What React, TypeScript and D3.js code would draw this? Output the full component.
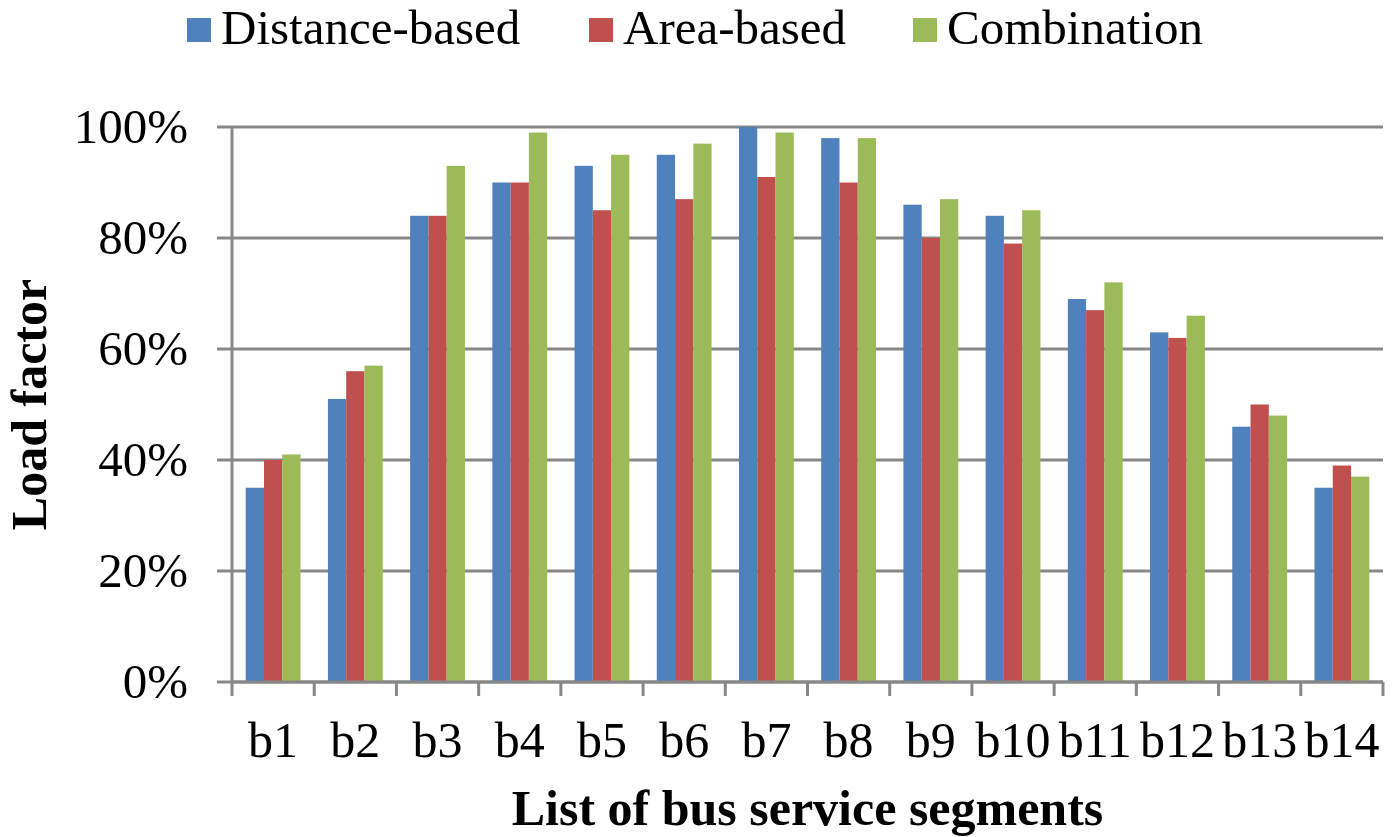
import React from "react";
import * as d3 from "d3";

const categories = ["b1", "b2", "b3", "b4", "b5", "b6", "b7", "b8", "b9", "b10", "b11", "b12", "b13", "b14"];
const distanceBased = [35, 51, 84, 90, 93, 95, 100, 98, 86, 84, 69, 63, 46, 35];
const areaBased = [40, 56, 84, 90, 85, 87, 91, 90, 80, 79, 67, 62, 50, 39];
const combination = [41, 57, 93, 99, 95, 97, 99, 98, 87, 85, 72, 66, 48, 37];
const seriesNames = ["Distance-based", "Area-based", "Combination"];
const seriesColors = ["#4F81BD", "#C0504D", "#9BBB59"];
const yTicks = [0, 20, 40, 60, 80, 100];

const W = 1395;
const H = 837;
const left = 232;
const right = 1383;
const top = 127;
const bottom = 682;
const FONT = "'Liberation Serif', 'Times New Roman', serif";
const GRID = "#878787";

export default function App() {
  const series = [distanceBased, areaBased, combination];
  const x = d3.scaleBand<string>().domain(categories).range([left, right]).paddingInner(1.5 / 4.5).paddingOuter(0.75 / 4.5);
  const xBand = d3.scaleBand<number>().domain([0, 1, 2]).range([0, x.bandwidth()]);
  const y = d3.scaleLinear().domain([0, 100]).range([bottom, top]);
  const step = (right - left) / categories.length;
  const legendX = [187, 589, 913];

  return (
    <svg width={W} height={H} style={{ position: "absolute", left: 0, top: 0, background: "#fff" }} fontFamily={FONT}>
      {/* legend */}
      {seriesNames.map((n, i) => (
        <g key={n}>
          <rect x={legendX[i]} y={18} width={24} height={24} fill={seriesColors[i]} />
          <text x={legendX[i] + 34} y={44} fontSize={49} fill="#000">{n}</text>
        </g>
      ))}
      {/* gridlines and y ticks */}
      {yTicks.map((t) => (
        <g key={t}>
          <line x1={217} x2={right} y1={y(t)} y2={y(t)} stroke={GRID} strokeWidth={3} />
          <text x={188} y={y(t) + 16} textAnchor="end" fontSize={49} fill="#000">{t}%</text>
        </g>
      ))}
      {/* bars */}
      {categories.map((c, ci) => (
        <g key={c} transform={`translate(${x(c)},0)`}>
          {series.map((s, si) => (
            <rect key={si} x={xBand(si)} y={y(s[ci])} width={xBand.bandwidth()} height={bottom - y(s[ci])} fill={seriesColors[si]} />
          ))}
        </g>
      ))}
      {/* axes */}
      <line x1={left} x2={left} y1={top} y2={bottom + 1.5} stroke={GRID} strokeWidth={3} />
      <line x1={left} x2={right} y1={bottom} y2={bottom} stroke={GRID} strokeWidth={3} />
      {d3.range(categories.length + 1).map((i) => (
        <line key={i} x1={left + i * step} x2={left + i * step} y1={bottom} y2={696} stroke={GRID} strokeWidth={3} />
      ))}
      {categories.map((c) => (
        <text key={c} x={(x(c) as number) + x.bandwidth() / 2} y={757} textAnchor="middle" fontSize={50} fill="#000">{c}</text>
      ))}
      {/* axis titles */}
      <text x={(left + right) / 2} y={825} textAnchor="middle" fontSize={50} fontWeight="bold" fill="#000">List of bus service segments</text>
      <text transform={`translate(46,${(top + bottom) / 2}) rotate(-90)`} textAnchor="middle" fontSize={50} fontWeight="bold" fill="#000">Load factor</text>
    </svg>
  );
}
